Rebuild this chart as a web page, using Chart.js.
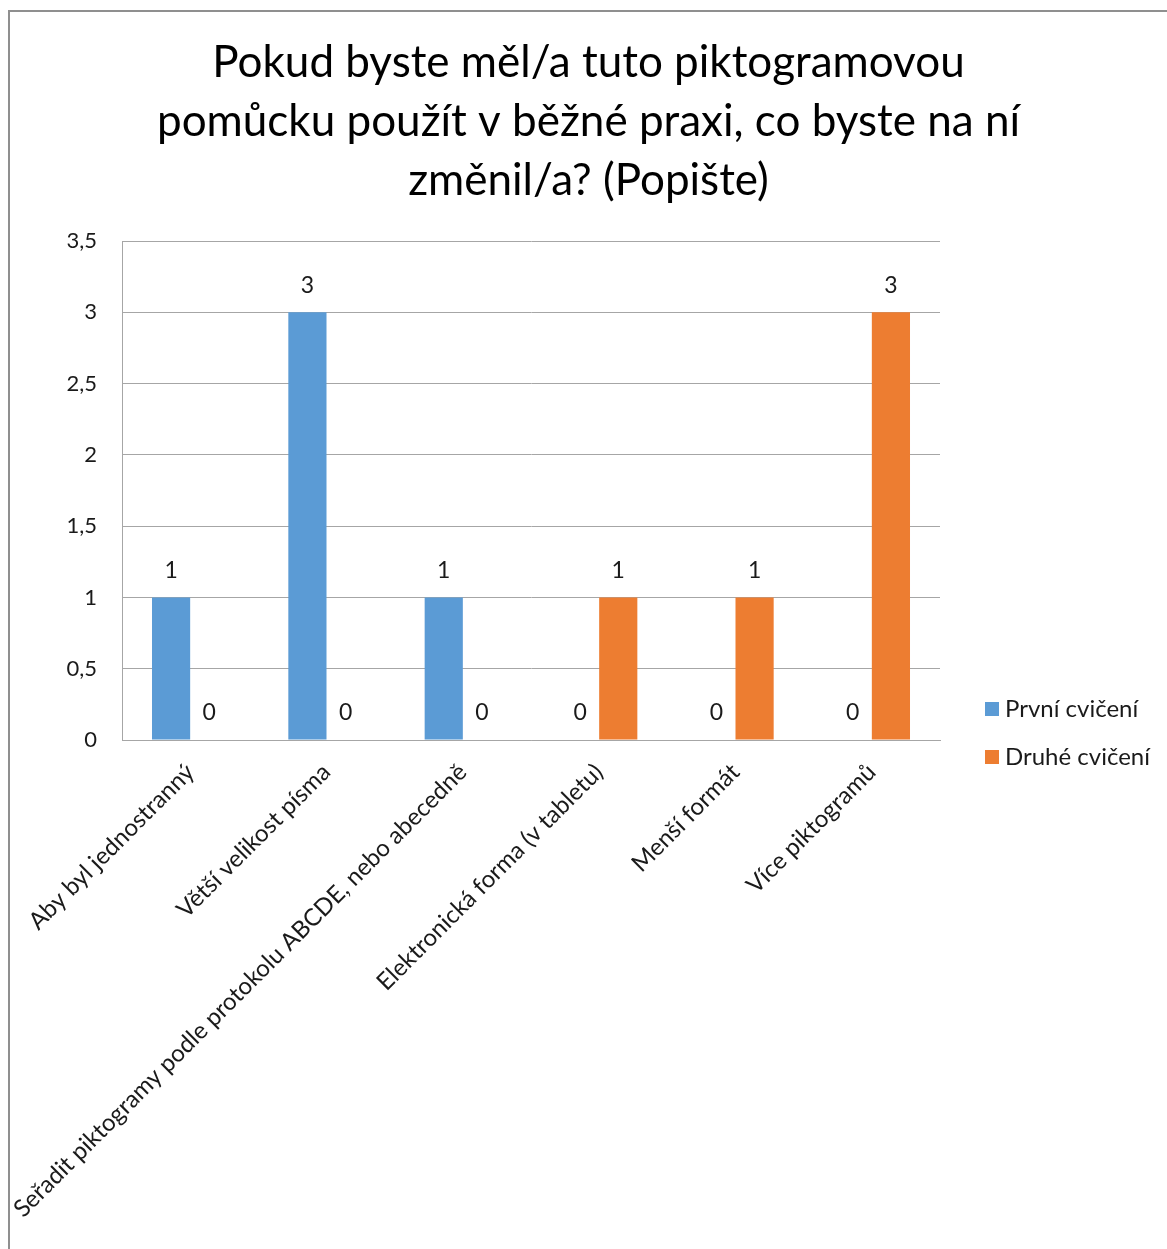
<!DOCTYPE html>
<html><head><meta charset="utf-8">
<script src="https://cdn.jsdelivr.net/npm/chart.js@4.4.1/dist/chart.umd.min.js"></script>
<style>
html,body{margin:0;padding:0;background:#fff;}
#frame{position:absolute;left:8px;top:10px;width:1159px;height:1239px;border-left:2px solid #8f8f8f;border-top:2px solid #8f8f8f;overflow:hidden;}
canvas{display:block}
</style></head>
<body><div id="frame"><canvas id="c" width="1157" height="1237"></canvas></div>
<script>
const titleLines = ['Pokud byste měl/a tuto piktogramovou', 'pomůcku použít v běžné praxi, co byste na ní', 'změnil/a? (Popište)'];
const categories = ['Aby byl jednostranný', 'Větší velikost písma', 'Seřadit piktogramy podle protokolu ABCDE, nebo abecedně', 'Elektronická forma (v tabletu)', 'Menší formát', 'Více piktogramů'];
const seriesNames = ['První cvičení', 'Druhé cvičení'];
const prvniCviceni = [1, 3, 1, 0, 0, 0];
const druheCviceni = [0, 0, 0, 1, 1, 3];
const yTickLabels = ['0', '0,5', '1', '1,5', '2', '2,5', '3', '3,5'];

const FONT = 'Lato, "Open Sans", sans-serif';
const TXT = '#1a1a1a';
const COLORS = ['#5B9BD5', '#ED7D31'];

const labelPlugin = {
  id: 'valueLabels',
  afterDatasetsDraw(chart) {
    const ctx = chart.ctx;
    ctx.save();
    ctx.font = '23px ' + FONT;
    ctx.fillStyle = TXT;
    ctx.textAlign = 'center';
    ctx.textBaseline = 'middle';
    chart.data.datasets.forEach((ds, di) => {
      const meta = chart.getDatasetMeta(di);
      meta.data.forEach((bar, i) => {
        ctx.fillText(String(ds.data[i]), bar.x, bar.y - 27);
      });
    });
    ctx.restore();
  }
};

const legendPlugin = {
  id: 'sideLegend',
  afterDraw(chart) {
    const ctx = chart.ctx;
    const area = chart.chartArea;
    ctx.save();
    ctx.font = '24px ' + FONT;
    ctx.textBaseline = 'middle';
    ctx.textAlign = 'left';
    const x0 = area.right + 45;
    const yStart = area.bottom - 31;
    chart.data.datasets.forEach((ds, i) => {
      const y = yStart + i * 48;
      ctx.fillStyle = ds.backgroundColor;
      ctx.fillRect(x0, y - 7, 14, 14);
      ctx.fillStyle = TXT;
      ctx.fillText(ds.label, x0 + 20, y);
    });
    ctx.restore();
  }
};

new Chart(document.getElementById('c'), {
  type: 'bar',
  data: {
    labels: categories,
    datasets: [
      { label: seriesNames[0], data: prvniCviceni, backgroundColor: COLORS[0] },
      { label: seriesNames[1], data: druheCviceni, backgroundColor: COLORS[1] }
    ]
  },
  options: {
    responsive: false,
    animation: false,
    categoryPercentage: 0.56,
    barPercentage: 1,
    layout: { padding: 0 },
    plugins: {
      legend: { display: false },
      tooltip: { enabled: false },
      title: {
        display: true,
        text: titleLines,
        color: '#000',
        font: { family: FONT, size: 44, weight: 'normal', lineHeight: 1.341 },
        padding: { top: 21.5, bottom: 30.5 }
      }
    },
    scales: {
      x: {
        grid: { display: false },
        border: { display: true, color: '#a6a6a6', width: 1 },
        ticks: {
          color: TXT, font: { family: FONT, size: 24 },
          minRotation: 45, maxRotation: 45, autoSkip: false, padding: 10
        },
        afterFit(s) { s.height = 509; }
      },
      y: {
        min: 0, max: 3.5,
        grid: { color: '#a6a6a6', lineWidth: 1, drawTicks: false },
        border: { display: true, color: '#a6a6a6', width: 1 },
        ticks: {
          stepSize: 0.5, color: TXT, font: { family: FONT, size: 22 }, padding: 25,
          callback: (v, i) => yTickLabels[i]
        },
        afterFit(s) { s.width = 112; }
      },
      yR: {
        position: 'right', display: true,
        grid: { display: false }, border: { display: false },
        ticks: { display: false },
        afterFit(s) { s.width = 227; }
      }
    }
  },
  plugins: [labelPlugin, legendPlugin]
});
</script>
</body></html>
